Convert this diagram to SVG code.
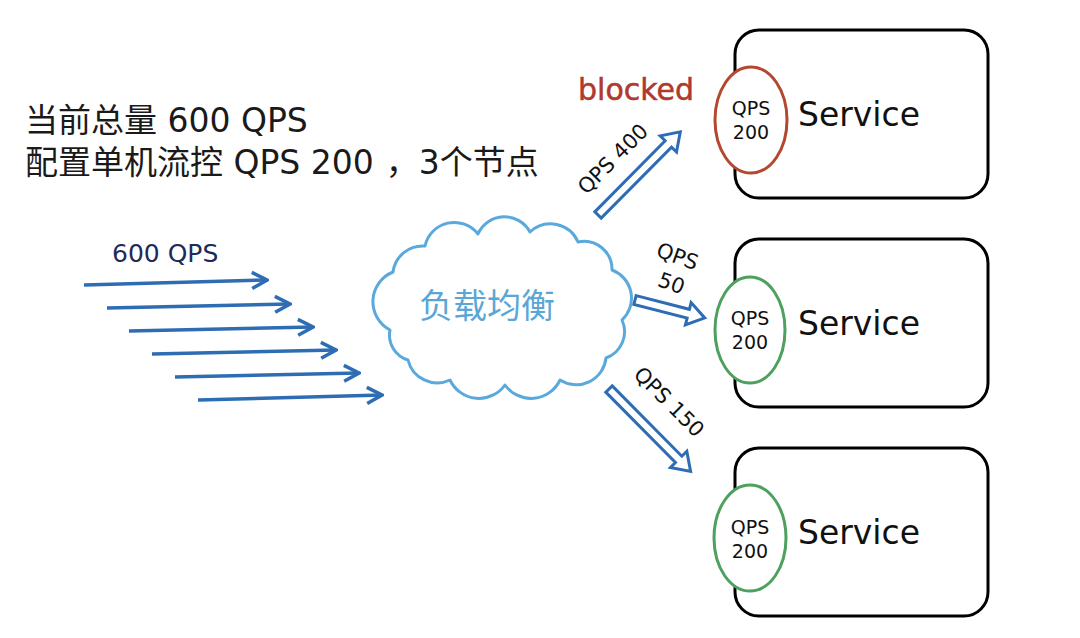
<svg xmlns="http://www.w3.org/2000/svg" width="1080" height="638" viewBox="0 0 1080 638">
<defs>
<style>
.box{fill:#fff;stroke:#000;stroke-width:3}
.red{fill:#fff;stroke:#b3472f;stroke-width:3}
.grn{fill:#fff;stroke:#4ea05e;stroke-width:3}
.svc{font-family:"DejaVu Sans",sans-serif;font-size:33px;fill:#111}
.qps{font-family:"DejaVu Sans",sans-serif;font-size:19px;fill:#111;text-anchor:middle}
.lbl{font-family:"DejaVu Sans",sans-serif;font-size:21px;fill:#111;text-anchor:middle}
.title{font-family:"DejaVu Sans","Noto Sans CJK SC",sans-serif;font-size:33px;fill:#1a1a1a}
.line{stroke:#2e6db4;stroke-width:3.5;fill:none}
.blk{fill:#fff;stroke:#2e6db4;stroke-width:3;stroke-linejoin:miter}
</style>
<marker id="chev" markerUnits="userSpaceOnUse" markerWidth="20" markerHeight="20" viewBox="-18 -10 20 20" refX="0" refY="0" orient="auto">
<path d="M-15,-8 L0,0 L-15,8" fill="none" stroke="#2e6db4" stroke-width="3.5"/>
</marker>
</defs>
<rect width="1080" height="638" fill="#fff"/>

<g id="title">
<text class="title" x="25" y="132">当前总量 600 QPS</text>
<text class="title" x="25" y="174">配置单机流控 QPS 200<tspan dx="12">，</tspan>3个节点</text>
</g>

<g id="label-600">
<text x="112" y="262" font-family="DejaVu Sans, sans-serif" font-size="25" fill="#1f2a5c">600 QPS</text>
</g>

<g id="cloud">
<path d="M390,330 A32,32 0 0 1 393,272 A30,30 0 0 1 425,246 A30,30 0 0 1 478,234 A29,29 0 0 1 530,232 A30,30 0 0 1 578,242 A28,28 0 0 1 612,270 A30,30 0 0 1 622,320 A28,28 0 0 1 606,358 A30,30 0 0 1 560,380 A32,32 0 0 1 505,385 A32,32 0 0 1 450,380 A30,30 0 0 1 408,360 A26,26 0 0 1 390,330 Z" fill="#fff" stroke="#5aa9dc" stroke-width="3" stroke-linejoin="round"/>
<text x="487" y="318" text-anchor="middle" font-family="Noto Sans CJK SC, sans-serif" font-size="34" fill="#5aa7d6">负载均衡</text>
</g>

<g id="service-1">
<rect class="box" x="735" y="30" width="253" height="168" rx="24"/>
<ellipse class="red" cx="751" cy="120" rx="36" ry="53"/>
<text class="qps" x="751" y="115">QPS</text>
<text class="qps" x="751" y="139">200</text>
<text class="svc" x="798" y="126">Service</text>
</g>

<g id="service-2">
<rect class="box" x="735" y="239" width="253" height="168" rx="24"/>
<ellipse class="grn" cx="750" cy="330" rx="35" ry="53"/>
<text class="qps" x="750" y="325">QPS</text>
<text class="qps" x="750" y="349">200</text>
<text class="svc" x="798" y="335">Service</text>
</g>

<g id="service-3">
<rect class="box" x="735" y="448" width="253" height="168" rx="24"/>
<ellipse class="grn" cx="750" cy="538" rx="36" ry="53"/>
<text class="qps" x="750" y="534">QPS</text>
<text class="qps" x="750" y="558">200</text>
<text class="svc" x="798" y="544">Service</text>
</g>

<g id="blocked">
<text x="578" y="100" font-family="DejaVu Sans, sans-serif" font-size="30" fill="#b0392c" stroke="#b0392c" stroke-width="0.5">blocked</text>
</g>

<g id="connectors">
<line class="line" x1="84" y1="285" x2="267" y2="280" marker-end="url(#chev)"/>
<line class="line" x1="107" y1="308" x2="290" y2="304" marker-end="url(#chev)"/>
<line class="line" x1="129" y1="331" x2="313" y2="327" marker-end="url(#chev)"/>
<line class="line" x1="152" y1="354" x2="336" y2="350" marker-end="url(#chev)"/>
<line class="line" x1="175" y1="377" x2="359" y2="373" marker-end="url(#chev)"/>
<line class="line" x1="198" y1="400" x2="382" y2="395" marker-end="url(#chev)"/>

<polygon class="blk" transform="translate(598,215) rotate(-45.3)" points="0,-4.5 100,-4.5 100,-11.5 117,0 100,11.5 100,4.5 0,4.5"/>
<polygon class="blk" transform="translate(635,300) rotate(14.4)" points="0,-4.5 55,-4.5 55,-11.5 72,0 55,11.5 55,4.5 0,4.5"/>
<polygon class="blk" transform="translate(609,389) rotate(45.3)" points="0,-4.5 99,-4.5 99,-11.5 116,0 99,11.5 99,4.5 0,4.5"/>

<text class="lbl" transform="translate(618,164) rotate(-45)">QPS 400</text>
<text class="lbl" transform="translate(675,263) rotate(20)">QPS</text>
<text class="lbl" transform="translate(669,290) rotate(20)">50</text>
<text class="lbl" transform="translate(664,407) rotate(45)">QPS 150</text>
</g>
</svg>
